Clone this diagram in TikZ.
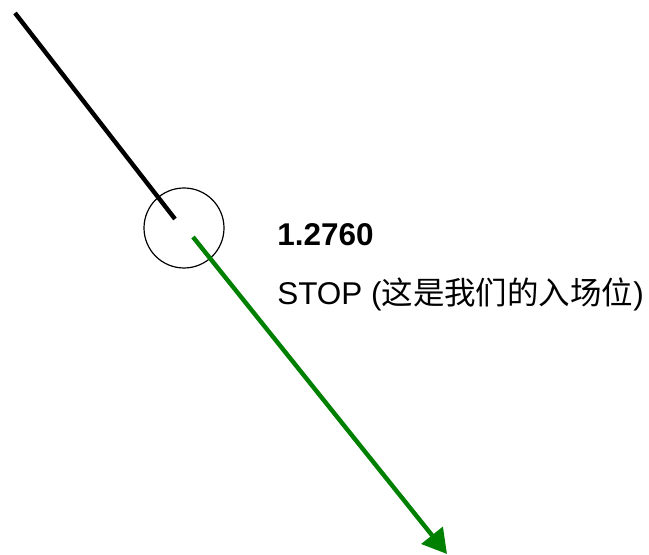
\documentclass[tikz,border=0pt]{standalone}
\usepackage{fontspec}
\setmainfont{Liberation Sans}
\newfontfamily\cjk{Noto Sans CJK SC}
\usetikzlibrary{arrows.meta}
\definecolor{tradegreen}{RGB}{0,128,0}

\begin{document}
\begin{tikzpicture}[x=0.75pt,y=-0.75pt,
  pricelabel/.style={anchor=base west,inner sep=0pt,font=\fontsize{23.6}{28}\selectfont},
  trend/.style={line width=3.3pt}]
\useasboundingbox (0,0) rectangle (649,555);
\node[draw,circle,line width=0.9pt,minimum size=60pt,inner sep=0pt] (entry) at (184,228) {};
\coordinate (oldtop) at (15,13);
\coordinate (oldend) at (175,219);
\coordinate (newstart) at (193,237);
\coordinate (target) at (447,554);
\draw[trend,black] (oldtop) -- (oldend);
\draw[trend,tradegreen,-{Triangle[length=18pt,width=20pt]}] (newstart) -- (target);
\node[pricelabel] (price) at (277,246) {\textbf{1.2760}};
\node[pricelabel] (stop) at (277,305) {STOP ({\cjk 这是我们的入场位})};
\end{tikzpicture}
\end{document}
